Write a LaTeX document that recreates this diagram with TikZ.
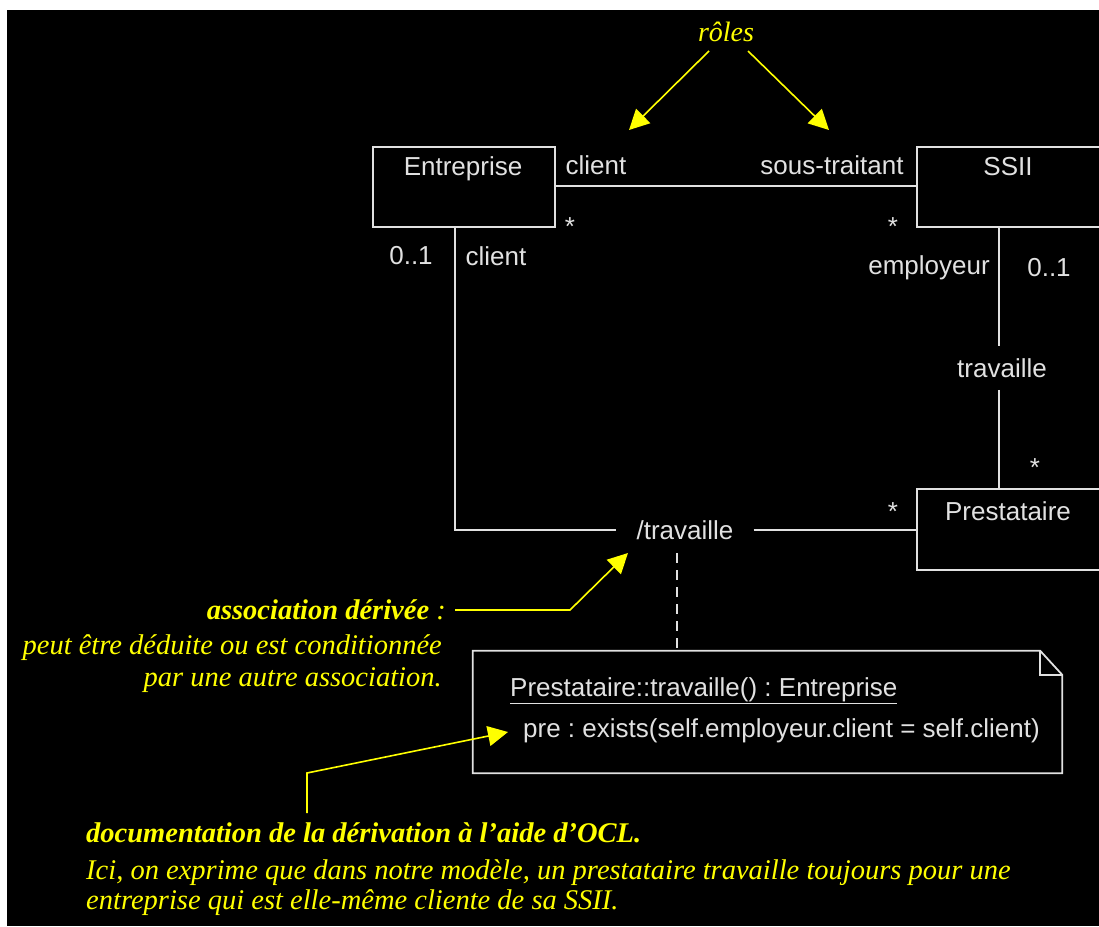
\documentclass[tikz,border=0pt]{standalone}
\usepackage{fontspec}
\setmainfont{Liberation Sans}
\newfontfamily\yserif{Liberation Serif}
\usetikzlibrary{arrows.meta}
\frenchspacing
\newcommand\umlfont{\fontsize{26}{30}\selectfont}
\newcommand\yfont{\yserif\itshape\fontsize{28.5}{30}\selectfont}
\newcommand\ybfont{\yserif\bfseries\itshape\fontsize{28.5}{30}\selectfont}
\definecolor{uline}{RGB}{225,225,225}
\definecolor{ylw}{RGB}{255,255,0}
\begin{document}
\begin{tikzpicture}[x=1pt,y=-1pt,
  umlbox/.style={draw=uline,line width=2pt,minimum width=182pt,minimum height=80pt,inner sep=0pt},
  umltext/.style={text=uline,font=\umlfont,inner sep=0pt},
  assoc/.style={draw=uline,line width=2pt},
  ytext/.style={text=ylw,font=\yfont,inner sep=0pt},
  ybtext/.style={text=ylw,font=\ybfont,inner sep=0pt},
  yarrow/.style={draw=ylw,line width=1.6pt,-{Triangle[length=20pt,width=20pt]}},
]
\useasboundingbox (0,0) rectangle (1099,926);
\fill[white] (0,0) rectangle (1099,926);
\fill[black] (7,10) rectangle (1099,926);
\clip (7,10) rectangle (1099,926);

% classes
\node[umlbox] (ent) at (464,187) {};
\node[umltext] (entT) at (463,169) {Entreprise};
\node[umlbox,minimum width=184pt] (ssii) at (1009,187) {};
\node[umltext] (ssiiT) at (1008,167) {SSII};
\node[umlbox,minimum width=184pt,minimum height=81pt] (prest) at (1009,529.5) {};
\node[umltext] (prestT) at (1008,511) {Prestataire};

% association Entreprise - SSII
\draw[assoc] (ent.east |- 0,186) -- (ssii.west |- 0,186);
\node[umltext] (r1) at (596,165) {client};
\node[umltext] (r2) at (832,165) {sous-traitant};
\node[umltext] (m1) at (570,227) {*};
\node[umltext] (m2) at (893,227) {*};

% derived association
\node[umltext,inner xsep=20pt] (trav) at (685,530) {/travaille};
\coordinate (c1) at (455,530);
\draw[assoc] (ent.south -| c1) -- (c1) -- (trav.west);
\draw[assoc] (trav.east) -- (trav.east -| prest.west);
\node[umltext] (m3) at (411,256) {0..1};
\node[umltext] (r3) at (496,256) {client};
\node[umltext] (m4) at (893,512) {*};

% association SSII - Prestataire
\node[umltext,inner ysep=12pt] (trav2) at (1002,368) {travaille};
\draw[assoc] (ssii.south -| 999,0) -- (trav2.north -| 999,0);
\draw[assoc] (trav2.south -| 999,0) -- (prest.north -| 999,0);
\node[umltext] (r4) at (929,268) {employeur};
\node[umltext] (m5) at (1049,268) {0..1};
\node[umltext] (m6) at (1035,468) {*};

% note
\node[minimum width=589pt,minimum height=122pt,inner sep=0pt] (note) at (767.5,712) {};
\draw[assoc,line width=1.8pt] (note.north west) -- ([xshift=-22pt]note.north east) -- ([yshift=-24pt]note.north east) -- (note.south east) -- (note.south west) -- cycle;
\draw[assoc,line width=1.8pt] ([xshift=-22pt]note.north east) -- ([xshift=-22pt,yshift=-24pt]note.north east) -- ([yshift=-24pt]note.north east);
\coordinate (d1) at (677,553);
\draw[assoc,dash pattern=on 10pt off 7pt] (d1) -- (d1 |- note.north);
\node[umltext,anchor=west] (ocl1) at (510,691) {\underline{Prestataire::travaille() : Entreprise}};
\node[umltext,anchor=west] (ocl2) at (523,731) {pre : exists(self.employeur.client = self.client)};

% yellow annotations
\node[ytext,font=\yserif\itshape\fontsize{28}{30}\selectfont] (roles) at (726,32) {rôles};
\coordinate (t1) at (629,130);
\coordinate (t2) at (829,130);
\draw[yarrow] (709,51) -- (t1);
\draw[yarrow] (748,51) -- (t2);

\node[ybtext,anchor=east] (assd) at (446,610) {association dérivée \textmd{:}};
\node[ytext,anchor=east] (assd2) at (442,648) {peut être déduite ou est conditionnée};
\node[ytext,anchor=east] (assd3) at (442,680) {par une autre association.};
\coordinate (a1) at (570,610);
\coordinate (t3) at (628,553);
\draw[yarrow] ([xshift=9pt]assd.east) -- (a1) -- (t3);

\node[ybtext,anchor=west] (doc) at (86,833) {documentation de la dérivation à l’aide d’OCL.};
\node[ytext,anchor=west] (doc2) at (86,873) {Ici, on exprime que dans notre modèle, un prestataire travaille toujours pour une};
\node[ytext,anchor=west] (doc3) at (86,903) {entreprise qui est elle-même cliente de sa SSII.};
\coordinate (b1) at (307,773);
\coordinate (t4) at (508,732);
\draw[yarrow] (307,813) -- (b1) -- (t4);
\end{tikzpicture}
\end{document}
